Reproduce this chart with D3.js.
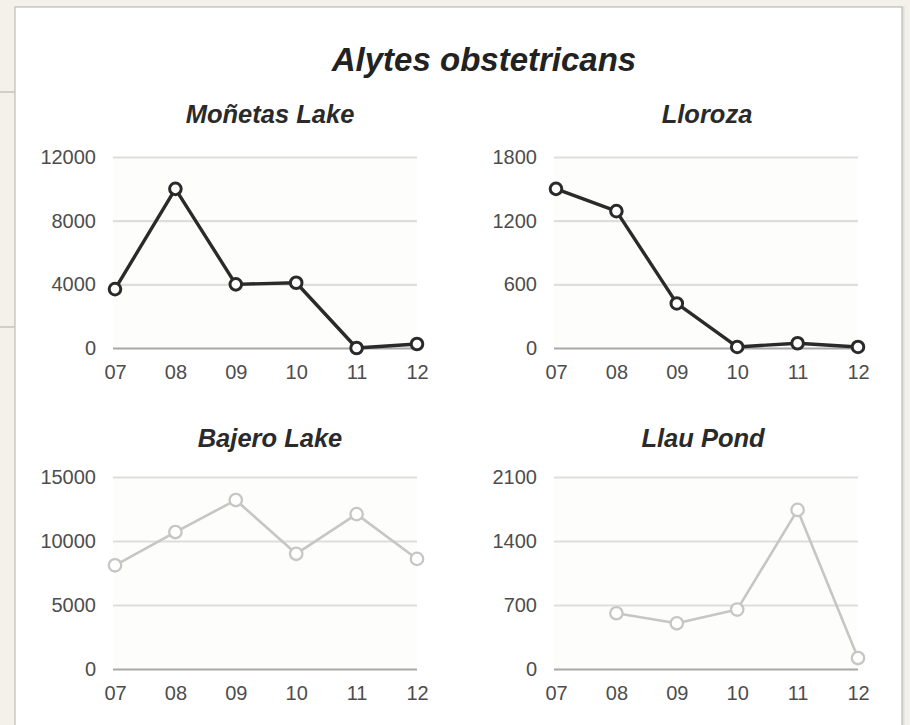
<!DOCTYPE html>
<html>
<head>
<meta charset="utf-8">
<script src="https://cdn.jsdelivr.net/npm/d3@7"></script>
<style>
  html, body { margin: 0; padding: 0; background: #f3f1ea; }
  svg { display: block; }
</style>
</head>
<body>
<svg id="chart" width="910" height="725"></svg>
<script>
// Survey years (x axis) and counts per site
const years = ["07", "08", "09", "10", "11", "12"];
const monetasLake = [3700, 10000, 4000, 4100, 0, 250];
const lloroza = [1500, 1290, 420, 10, 45, 10];
const bajeroLake = [8100, 10700, 13200, 9000, 12100, 8600];
const llauPond = [null, 610, 500, 650, 1740, 120];

// Y tick labels per site
const monetasTicks = [0, 4000, 8000, 12000];
const llorozaTicks = [0, 600, 1200, 1800];
const bajeroTicks = [0, 5000, 10000, 15000];
const llauTicks = [0, 700, 1400, 2100];

const mainTitle = "Alytes obstetricans";
const siteNames = ["Moñetas Lake", "Lloroza", "Bajero Lake", "Llau Pond"];

const svg = d3.select("#chart");
const FONT = "'Liberation Sans', Arial, Helvetica, sans-serif";

// page background strips and the white card
svg.append("rect").attr("x", 0).attr("y", 0).attr("width", 910).attr("height", 725).attr("fill", "#f3f1ea");
svg.append("line").attr("x1", 0).attr("x2", 15).attr("y1", 92).attr("y2", 92).attr("stroke", "#c4c2bc").attr("stroke-width", 1.5);
svg.append("line").attr("x1", 0).attr("x2", 15).attr("y1", 327).attr("y2", 327).attr("stroke", "#c4c2bc").attr("stroke-width", 1.5);
svg.append("rect").attr("x", 16).attr("y", 8).attr("width", 887).attr("height", 730)
  .attr("fill", "none").attr("stroke", "#e2e0da").attr("stroke-width", 3);
svg.append("rect").attr("x", 15).attr("y", 7).attr("width", 887).attr("height", 730)
  .attr("fill", "#ffffff").attr("stroke", "#bdbdb8").attr("stroke-width", 1.2);

svg.append("text")
  .attr("x", 484).attr("y", 71)
  .attr("text-anchor", "middle")
  .attr("font-family", FONT).attr("font-size", 33).attr("font-weight", "bold").attr("font-style", "italic")
  .attr("fill", "#222")
  .text(mainTitle);

const panels = [
  { name: siteNames[0], values: monetasLake, ticks: monetasTicks, x0: 115, x1: 417, yTop: 157, yBot: 348, titleY: 123, titleDx: 4, dark: true },
  { name: siteNames[1], values: lloroza, ticks: llorozaTicks, x0: 556, x1: 858, yTop: 157, yBot: 348, titleY: 123, titleDx: 0, dark: true },
  { name: siteNames[2], values: bajeroLake, ticks: bajeroTicks, x0: 115, x1: 417, yTop: 477, yBot: 669, titleY: 447, titleDx: 4, dark: false },
  { name: siteNames[3], values: llauPond, ticks: llauTicks, x0: 556, x1: 858, yTop: 477, yBot: 669, titleY: 447, titleDx: -4, dark: false }
];

panels.forEach(p => {
  const g = svg.append("g");
  const x = d3.scalePoint().domain(years).range([p.x0, p.x1]);
  const y = d3.scaleLinear().domain([0, d3.max(p.ticks)]).range([p.yBot, p.yTop]);

  // plot background
  g.append("rect")
    .attr("x", p.x0 - 2).attr("y", p.yTop).attr("width", p.x1 - p.x0 + 2).attr("height", p.yBot - p.yTop)
    .attr("fill", "#fdfdfb");

  // title
  g.append("text")
    .attr("x", (p.x0 + p.x1) / 2 + p.titleDx).attr("y", p.titleY)
    .attr("text-anchor", "middle")
    .attr("font-family", FONT).attr("font-size", 25.5).attr("font-weight", "bold").attr("font-style", "italic")
    .attr("fill", "#2a2a2a")
    .text(p.name);

  // y axis: gridlines + labels
  const yAxis = d3.axisLeft(y).tickValues(p.ticks).tickSize(-(p.x1 - p.x0 + 2)).tickPadding(17).tickFormat(d3.format("d"));
  const ya = g.append("g").attr("transform", `translate(${p.x0 - 2},0)`).call(yAxis);
  ya.select(".domain").remove();
  ya.selectAll(".tick line")
    .attr("stroke", d => d === 0 ? "#a8a8a8" : "#dededc")
    .attr("stroke-width", 2.2);
  ya.selectAll(".tick text")
    .attr("font-family", FONT).attr("font-size", 20).attr("fill", "#4d4d4d");

  // x axis labels
  const xAxis = d3.axisBottom(x).tickSize(0).tickPadding(17);
  const xa = g.append("g").attr("transform", `translate(0,${p.yBot})`).call(xAxis);
  xa.select(".domain").remove();
  xa.selectAll(".tick text")
    .attr("font-family", FONT).attr("font-size", 20).attr("fill", "#4d4d4d");

  const stroke = p.dark ? "#2a2a2a" : "#c6c6c4";
  const line = d3.line()
    .defined(d => d != null)
    .x((d, i) => x(years[i]))
    .y(d => y(d));

  g.append("path")
    .datum(p.values)
    .attr("d", line)
    .attr("fill", "none")
    .attr("stroke", stroke)
    .attr("stroke-width", p.dark ? 3.4 : 2.6)
    .attr("stroke-linejoin", "round");

  g.selectAll("circle.pt")
    .data(p.values.map((v, i) => ({ v, yr: years[i] })).filter(d => d.v != null))
    .join("circle")
    .attr("class", "pt")
    .attr("cx", d => x(d.yr))
    .attr("cy", d => y(d.v))
    .attr("r", p.dark ? 5.8 : 6.2)
    .attr("fill", "#fff")
    .attr("stroke", stroke)
    .attr("stroke-width", p.dark ? 3 : 2.3);
});
</script>
</body>
</html>
